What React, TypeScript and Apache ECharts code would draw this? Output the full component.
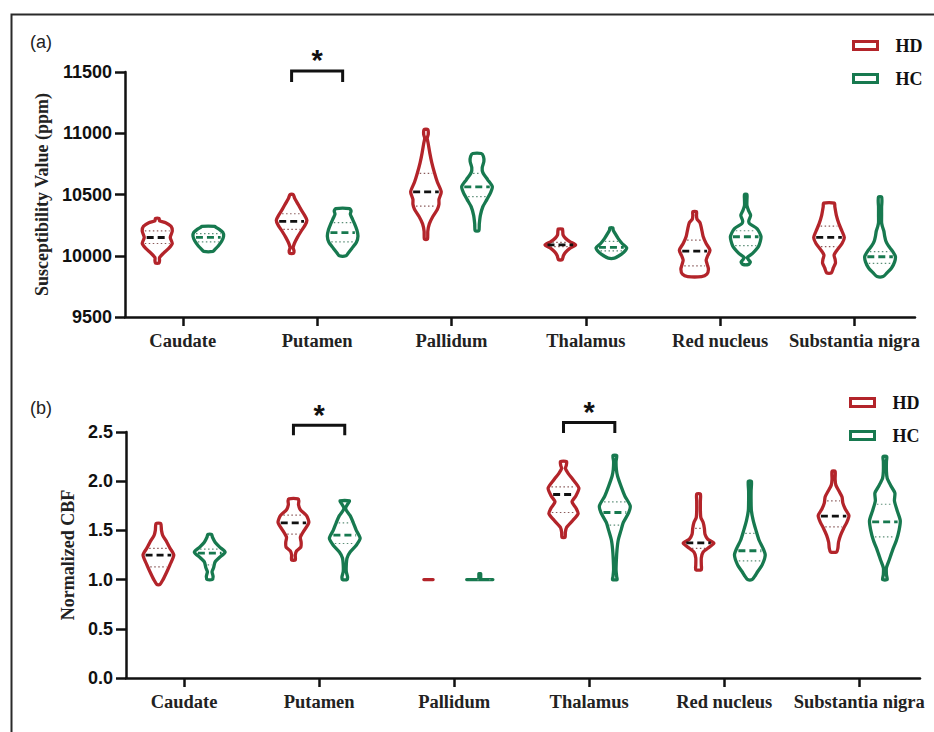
import React, { useEffect, useRef } from "react";
import * as echarts from "echarts";

// ---------- data ----------
const categories = ["Caudate", "Putamen", "Pallidum", "Thalamus", "Red nucleus", "Substantia nigra"];
const groupNames = ["HD", "HC"];

// Panel (a): susceptibility (ppm). Violin profiles: [value, relative density]
const qsmHDProfiles: number[][][] = [
  [[9940, 0.12], [9960, 0.15], [9985, 0.15], [10020, 0.4], [10060, 0.75], [10100, 0.98], [10150, 0.85], [10200, 0.98], [10240, 0.9], [10270, 0.55], [10285, 0.15], [10305, 0.12]],
  [[10020, 0.13], [10040, 0.16], [10065, 0.1], [10100, 0.18], [10150, 0.38], [10200, 0.62], [10250, 0.88], [10290, 1.0], [10330, 0.85], [10380, 0.6], [10430, 0.38], [10470, 0.2], [10500, 0.1]],
  [[10135, 0.1], [10200, 0.12], [10260, 0.22], [10320, 0.45], [10380, 0.75], [10420, 0.85], [10460, 0.85], [10522, 1.0], [10600, 0.75], [10680, 0.55], [10760, 0.38], [10840, 0.25], [10920, 0.14], [10960, 0.08], [10990, 0.15], [11030, 0.12]],
  [[9968, 0.12], [10000, 0.2], [10030, 0.35], [10060, 0.62], [10088, 1.0], [10115, 0.62], [10145, 0.32], [10170, 0.18], [10200, 0.16], [10218, 0.14]],
  [[9830, 0.45], [9850, 0.8], [9890, 0.9], [9930, 0.82], [9965, 0.75], [10000, 0.85], [10046, 1.0], [10100, 0.75], [10160, 0.55], [10220, 0.45], [10270, 0.35], [10300, 0.15], [10330, 0.12], [10360, 0.12]],
  [[9860, 0.15], [9900, 0.28], [9940, 0.42], [9970, 0.4], [10005, 0.33], [10050, 0.55], [10100, 0.85], [10150, 1.0], [10200, 0.85], [10260, 0.65], [10330, 0.48], [10400, 0.38], [10430, 0.35]],
];
const qsmHCProfiles: number[][][] = [
  [[10035, 0.3], [10050, 0.42], [10080, 0.65], [10120, 0.88], [10160, 1.0], [10190, 0.95], [10215, 0.72], [10232, 0.5], [10240, 0.42]],
  [[10000, 0.22], [10025, 0.38], [10060, 0.6], [10110, 0.9], [10160, 1.0], [10210, 0.93], [10260, 0.78], [10310, 0.6], [10340, 0.5], [10365, 0.55], [10385, 0.45]],
  [[10205, 0.12], [10260, 0.15], [10330, 0.22], [10400, 0.38], [10460, 0.65], [10520, 0.9], [10565, 1.0], [10620, 0.7], [10680, 0.38], [10720, 0.34], [10770, 0.45], [10810, 0.42], [10835, 0.28]],
  [[9980, 0.2], [10000, 0.5], [10030, 0.82], [10065, 1.0], [10100, 0.7], [10140, 0.45], [10180, 0.25], [10210, 0.12], [10228, 0.1]],
  [[9930, 0.2], [9950, 0.3], [9968, 0.18], [9985, 0.1], [10020, 0.45], [10080, 0.85], [10155, 1.0], [10220, 0.75], [10262, 0.25], [10285, 0.2], [10330, 0.32], [10370, 0.18], [10410, 0.08], [10460, 0.08], [10500, 0.08]],
  [[9830, 0.2], [9860, 0.45], [9900, 0.75], [9950, 0.95], [9995, 1.0], [10040, 0.8], [10080, 0.55], [10120, 0.38], [10160, 0.3], [10200, 0.25], [10240, 0.15], [10270, 0.1], [10330, 0.1], [10400, 0.1], [10440, 0.12], [10480, 0.1]],
];
const qsmHDMedian = [10149, 10281, 10522, 10088, 10038, 10150];
const qsmHDQ1 = [10100, 10216, 10405, 10075, 9918, 10074];
const qsmHDQ3 = [10203, 10343, 10672, 10110, 10128, 10242];
const qsmHCMedian = [10150, 10188, 10563, 10068, 10155, 9992];
const qsmHCQ1 = [10114, 10114, 10482, 10040, 10082, 9938];
const qsmHCQ3 = [10181, 10270, 10672, 10117, 10204, 10033];

// Panel (b): normalized CBF
const cbfHDProfiles: number[][][] = [
  [[0.95, 0.1], [1.0, 0.3], [1.08, 0.55], [1.15, 0.75], [1.25, 1.0], [1.32, 0.75], [1.38, 0.55], [1.45, 0.28], [1.5, 0.2], [1.57, 0.15]],
  [[1.2, 0.12], [1.25, 0.12], [1.29, 0.2], [1.33, 0.48], [1.38, 0.5], [1.43, 0.45], [1.5, 0.7], [1.58, 1.0], [1.65, 0.85], [1.71, 0.45], [1.76, 0.33], [1.8, 0.35], [1.82, 0.3]],
  [[1.0, 0.3], [1.0, 0.3]],
  [[1.43, 0.1], [1.48, 0.12], [1.53, 0.2], [1.6, 0.6], [1.67, 0.95], [1.73, 0.8], [1.79, 0.55], [1.85, 0.8], [1.93, 1.0], [2.02, 0.6], [2.08, 0.3], [2.13, 0.12], [2.16, 0.18], [2.2, 0.2]],
  [[1.1, 0.18], [1.15, 0.18], [1.22, 0.18], [1.28, 0.3], [1.33, 0.7], [1.37, 1.0], [1.41, 0.6], [1.46, 0.42], [1.52, 0.38], [1.58, 0.3], [1.63, 0.15], [1.7, 0.12], [1.8, 0.12], [1.87, 0.12]],
  [[1.28, 0.2], [1.32, 0.28], [1.38, 0.32], [1.45, 0.45], [1.52, 0.65], [1.58, 0.85], [1.65, 1.0], [1.72, 0.75], [1.78, 0.6], [1.84, 0.55], [1.9, 0.35], [1.96, 0.15], [2.02, 0.1], [2.1, 0.1]],
];
const cbfHCProfiles: number[][][] = [
  [[1.0, 0.15], [1.03, 0.22], [1.08, 0.15], [1.12, 0.25], [1.18, 0.35], [1.22, 0.6], [1.28, 1.0], [1.33, 0.65], [1.38, 0.35], [1.43, 0.18], [1.46, 0.12]],
  [[1.0, 0.15], [1.03, 0.18], [1.08, 0.1], [1.15, 0.1], [1.22, 0.15], [1.28, 0.35], [1.35, 0.75], [1.42, 1.0], [1.5, 0.75], [1.58, 0.55], [1.65, 0.35], [1.7, 0.12], [1.73, 0.06], [1.77, 0.2], [1.8, 0.3]],
  [[1.0, 0.85], [1.0, 0.06], [1.06, 0.06]],
  [[1.0, 0.15], [1.03, 0.12], [1.1, 0.08], [1.2, 0.1], [1.3, 0.14], [1.4, 0.22], [1.5, 0.4], [1.58, 0.55], [1.68, 0.9], [1.75, 1.0], [1.85, 0.65], [1.95, 0.4], [2.05, 0.18], [2.12, 0.1], [2.2, 0.08], [2.26, 0.12]],
  [[1.0, 0.15], [1.03, 0.3], [1.08, 0.5], [1.15, 0.8], [1.25, 1.0], [1.32, 0.85], [1.4, 0.6], [1.5, 0.4], [1.6, 0.22], [1.7, 0.1], [1.8, 0.08], [1.9, 0.08], [2.0, 0.1]],
  [[1.0, 0.15], [1.05, 0.1], [1.12, 0.1], [1.2, 0.28], [1.3, 0.5], [1.4, 0.75], [1.5, 0.92], [1.6, 1.0], [1.7, 0.8], [1.8, 0.62], [1.88, 0.65], [1.95, 0.4], [2.03, 0.15], [2.1, 0.1], [2.2, 0.1], [2.25, 0.12]],
];
const cbfHDMedian = [1.249, 1.577, 1.0, 1.865, 1.374, 1.645];
const cbfHDQ1 = [1.13, 1.462, 1.0, 1.682, 1.317, 1.536];
const cbfHDQ3 = [1.317, 1.655, 1.0, 1.942, 1.52, 1.8];
const cbfHCMedian = [1.27, 1.452, 1.0, 1.682, 1.293, 1.587];
const cbfHCQ1 = [1.15, 1.367, 1.0, 1.553, 1.191, 1.435];
const cbfHCQ3 = [1.31, 1.577, 1.0, 1.79, 1.469, 1.766];

// significance brackets: [category position, bracket level, leg end, star level]
const qsmSig = [[2, 11509, 11419, 11637]];
const cbfSig = [[2, 2.568, 2.467, 2.72], [4, 2.596, 2.49, 2.754]];

const qsmTicks = [9500, 10000, 10500, 11000, 11500];
const cbfTicks = [0, 0.5, 1.0, 1.5, 2.0, 2.5];

// ---------- styles ----------
const RED = "#B3242A";
const GREEN = "#17794F";
const GROUP_OFFSET = 0.19;
const HALF_WIDTH = 0.114;
const SERIF = '"Liberation Serif", "Times New Roman", serif';
const SANS = '"Liberation Sans", Arial, sans-serif';

function widthAt(prof: number[][], v: number): number {
  if (v <= prof[0][0]) return prof[0][1];
  for (let i = 1; i < prof.length; i++) {
    const [v0, d0] = prof[i - 1];
    const [v1, d1] = prof[i];
    if (v <= v1) {
      if (v1 === v0) return Math.max(d0, d1);
      return d0 + ((v - v0) / (v1 - v0)) * (d1 - d0);
    }
  }
  return prof[prof.length - 1][1];
}

function violinRenderer(profiles: number[][][], offset: number, color: string, medianColor: string, quartColor: string) {
  return (params: any, api: any) => {
    const i = params.dataIndex;
    const prof = profiles[i];
    const xPos = api.value(0) + offset;
    const halfPx = api.size([HALF_WIDTH, 0])[0];
    const cx = api.coord([xPos, prof[0][0]])[0];
    const right = prof.map(([v, d]) => [cx + d * halfPx, api.coord([xPos, v])[1]]);
    const left = prof.slice().reverse().map(([v, d]) => [cx - d * halfPx, api.coord([xPos, v])[1]]);
    const pts = right.concat(left);
    const degenerate = prof.length < 5;
    const children: any[] = [
      {
        type: "polygon",
        shape: { points: pts, smooth: degenerate ? 0 : 0.22 },
        style: { fill: "#fff", stroke: color, lineWidth: 3.3, lineJoin: "round" },
      },
    ];
    const height = prof[prof.length - 1][0] - prof[0][0];
    if (height > 0) {
      const lines = [
        { v: api.value(2), c: quartColor, dash: [1.5, 2.5], w: 1.2 },
        { v: api.value(3), c: quartColor, dash: [1.5, 2.5], w: 1.2 },
        { v: api.value(1), c: medianColor, dash: [7, 4], w: 2.8 },
      ];
      lines.forEach((l) => {
        const hw = Math.max(widthAt(prof, l.v) * halfPx - 2.5, 2);
        const y = api.coord([xPos, l.v])[1];
        children.push({
          type: "line",
          shape: { x1: cx - hw, y1: y, x2: cx + hw, y2: y },
          style: { stroke: l.c, lineWidth: l.w, lineDash: l.dash },
        });
      });
    }
    return { type: "group", children };
  };
}

function sigRenderer(params: any, api: any) {
  const c = api.value(0);
  const top = api.value(1);
  const [xl, yTop] = api.coord([c - GROUP_OFFSET, top]);
  const xr = api.coord([c + GROUP_OFFSET, top])[0];
  const yLeg = api.coord([c, api.value(2)])[1];
  const yStar = api.coord([c, api.value(3)])[1];
  return {
    type: "group",
    children: [
      {
        type: "polyline",
        shape: { points: [[xl, yLeg], [xl, yTop], [xr, yTop], [xr, yLeg]] },
        style: { stroke: "#111", lineWidth: 3, fill: "none" },
      },
      {
        type: "text",
        x: (xl + xr) / 2,
        y: yStar + 5,
        style: { text: "*", align: "center", verticalAlign: "middle", font: `bold 29px ${SANS}`, fill: "#111" },
      },
    ],
  };
}

const xAxisBase = (gridIndex: number) => ({
  type: "value",
  gridIndex,
  min: 0.57,
  max: 6.45,
  splitLine: { show: false },
  axisLine: { lineStyle: { color: "#111", width: 2.5 } },
  axisTick: { customValues: [1, 2, 3, 4, 5, 6], length: 9, lineStyle: { color: "#111", width: 2.5 } },
  axisLabel: {
    customValues: [1, 2, 3, 4, 5, 6],
    formatter: (v: number) => categories[Math.round(v) - 1] ?? "",
    margin: 14,
    fontFamily: SERIF,
    fontWeight: "bold",
    fontSize: 18.5,
    color: "#222",
  },
});

const yAxisBase = (gridIndex: number, name: string, ticks: number[], gap: number, fmt: (v: number) => string) => ({
  type: "value",
  gridIndex,
  min: ticks[0],
  max: ticks[ticks.length - 1],
  interval: ticks[1] - ticks[0],
  name,
  nameLocation: "middle",
  nameGap: gap,
  nameTextStyle: { fontFamily: SERIF, fontWeight: "bold", fontSize: 18, color: "#222" },
  splitLine: { show: false },
  axisLine: { show: true, lineStyle: { color: "#111", width: 2.5 } },
  axisTick: { show: true, length: 10, lineStyle: { color: "#111", width: 2.5 } },
  axisLabel: { formatter: fmt, margin: 13, fontFamily: SANS, fontWeight: "bold", fontSize: 18, color: "#111" },
});

const legendBase = (left: number, top: number) => ({
  left,
  top,
  padding: 0,
  orient: "vertical",
  icon: "rect",
  itemWidth: 24,
  itemHeight: 8,
  itemGap: 12,
  selectedMode: false,
  data: [
    { name: groupNames[0], itemStyle: { color: "#fff", borderColor: RED, borderWidth: 3 } },
    { name: groupNames[1], itemStyle: { color: "#fff", borderColor: GREEN, borderWidth: 3 } },
  ],
  textStyle: { fontFamily: SERIF, fontWeight: "bold", fontSize: 18, color: "#111", lineHeight: 21, padding: [0, 0, 0, 13] },
});

const build = (median: number[], q1: number[], q3: number[]) => categories.map((_, i) => [i + 1, median[i], q1[i], q3[i]]);

const option: any = {
  animation: false,
  backgroundColor: "#fff",
  grid: [
    { left: 125, top: 72, width: 790, height: 245 },
    { left: 126, top: 432, width: 794, height: 246 },
  ],
  xAxis: [xAxisBase(0), xAxisBase(1)],
  yAxis: [
    yAxisBase(0, "Susceptibility Value (ppm)", qsmTicks, 73, (v: number) => String(v)),
    yAxisBase(1, "Normalized CBF", cbfTicks, 49, (v: number) => v.toFixed(1)),
  ],
  legend: [legendBase(852, 35), legendBase(849, 392)],
  graphic: [
    { type: "polyline", shape: { points: [[11.5, 732], [11.5, 14.5], [934, 14.5]] }, style: { stroke: "#2a2a2a", lineWidth: 2, fill: "none" } },
    { type: "text", left: 30, top: 33, style: { text: "(a)", font: `18px ${SANS}`, fill: "#222" } },
    { type: "text", left: 30, top: 399, style: { text: "(b)", font: `18px ${SANS}`, fill: "#222" } },
  ],
  series: [
    {
      type: "custom", name: groupNames[0], xAxisIndex: 0, yAxisIndex: 0, itemStyle: { color: RED },
      renderItem: violinRenderer(qsmHDProfiles, -GROUP_OFFSET, RED, "#111", "#8a5a5a"),
      data: build(qsmHDMedian, qsmHDQ1, qsmHDQ3), encode: { x: 0, y: [1, 2, 3] },
    },
    {
      type: "custom", name: groupNames[1], xAxisIndex: 0, yAxisIndex: 0, itemStyle: { color: GREEN },
      renderItem: violinRenderer(qsmHCProfiles, GROUP_OFFSET, GREEN, GREEN, "#5d8f78"),
      data: build(qsmHCMedian, qsmHCQ1, qsmHCQ3), encode: { x: 0, y: [1, 2, 3] },
    },
    {
      type: "custom", name: groupNames[0], xAxisIndex: 1, yAxisIndex: 1, itemStyle: { color: RED },
      renderItem: violinRenderer(cbfHDProfiles, -GROUP_OFFSET, RED, "#111", "#8a5a5a"),
      data: build(cbfHDMedian, cbfHDQ1, cbfHDQ3), encode: { x: 0, y: [1, 2, 3] },
    },
    {
      type: "custom", name: groupNames[1], xAxisIndex: 1, yAxisIndex: 1, itemStyle: { color: GREEN },
      renderItem: violinRenderer(cbfHCProfiles, GROUP_OFFSET, GREEN, GREEN, "#5d8f78"),
      data: build(cbfHCMedian, cbfHCQ1, cbfHCQ3), encode: { x: 0, y: [1, 2, 3] },
    },
    {
      type: "custom", name: "sigA", xAxisIndex: 0, yAxisIndex: 0, renderItem: sigRenderer,
      data: qsmSig, encode: { x: 0, y: 1 }, clip: false,
    },
    {
      type: "custom", name: "sigB", xAxisIndex: 1, yAxisIndex: 1, renderItem: sigRenderer,
      data: cbfSig, encode: { x: 0, y: 1 }, clip: false,
    },
  ],
};

export default function App() {
  const ref = useRef<HTMLDivElement>(null);
  useEffect(() => {
    document.body.style.margin = "0";
    const chart = echarts.init(ref.current!, null, { renderer: "svg" });
    chart.setOption(option);
    return () => chart.dispose();
  }, []);
  return <div ref={ref} style={{ width: 934, height: 732, background: "#fff" }} />;
}
